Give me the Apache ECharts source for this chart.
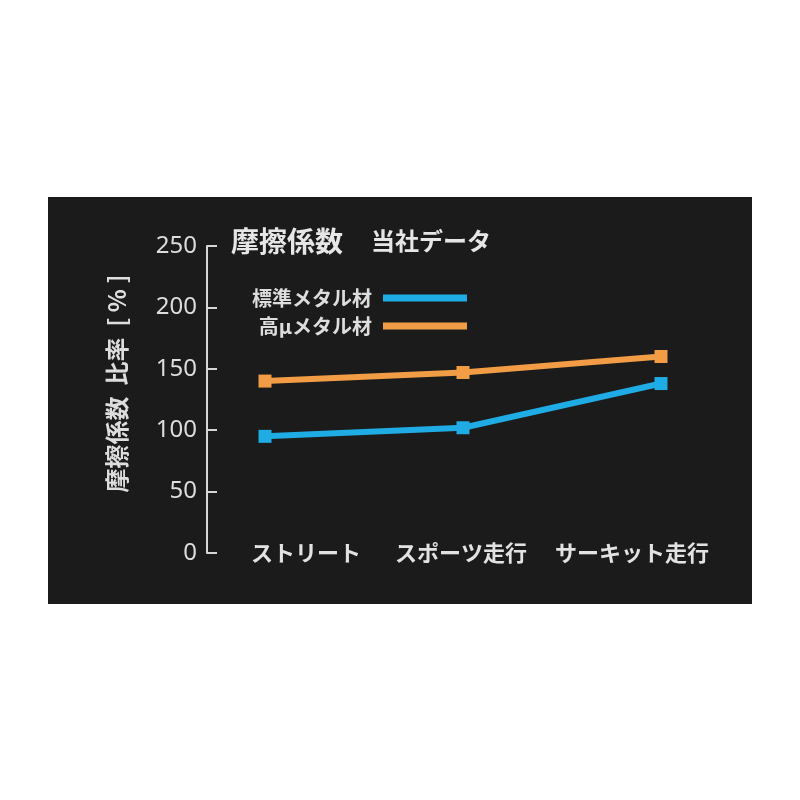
<!DOCTYPE html>
<html>
<head>
<meta charset="utf-8">
<script src="https://cdn.jsdelivr.net/npm/echarts@6/dist/echarts.min.js"></script>
<style>
  html, body { margin: 0; padding: 0; background: #ffffff; }
  #chart { width: 800px; height: 800px; }
</style>
</head>
<body>
<div id="chart"></div>
<script>
var myChart = echarts.init(document.getElementById('chart'));

// data
var categories = ['ストリート', 'スポーツ走行', 'サーキット走行'];
var standardMetal = [95, 102, 138];   // 標準メタル材
var highMuMetal = [140, 147, 160];    // 高μメタル材
var seriesNames = ['標準メタル材', '高μメタル材'];
var yTicks = [0, 250, 50];            // min, max, interval

var textFont = '"Noto Sans CJK JP", "Noto Sans", sans-serif';

// category labels are not centred on the points in the original
var labelRich = {
  c0: { fontSize: 22, fontWeight: 'bold', color: '#e2e2e2', fontFamily: textFont, padding: [0, 0, 0, 82] },
  c1: { fontSize: 22, fontWeight: 'bold', color: '#e2e2e2', fontFamily: textFont, padding: [0, 4, 0, 0] },
  c2: { fontSize: 22, fontWeight: 'bold', color: '#e2e2e2', fontFamily: textFont, padding: [0, 58, 0, 0] }
};

option = {
  backgroundColor: '#ffffff',
  animation: false,
  graphic: [{
    type: 'rect',
    z: -100,
    shape: { x: 48, y: 197, width: 704, height: 407 },
    style: { fill: '#1b1b1b' }
  }],
  title: {
    left: 231,
    top: 227,
    padding: 0,
    text: '{a|摩擦係数}{b|当社データ}',
    textStyle: {
      rich: {
        a: { fontSize: 28, fontWeight: 'bold', color: '#e6e6e6', fontFamily: textFont },
        b: { fontSize: 24, fontWeight: 'bold', color: '#e6e6e6', fontFamily: textFont, padding: [0, 0, 0, 28] }
      }
    }
  },
  legend: {
    orient: 'vertical',
    left: 252,
    top: 288,
    padding: 0,
    align: 'right',
    itemWidth: 84,
    itemHeight: 7,
    itemGap: 8,
    icon: 'rect',
    data: seriesNames,
    textStyle: { color: '#dddddd', fontSize: 20, fontWeight: 'bold', fontFamily: textFont, padding: [0, 6, 0, 0] }
  },
  grid: { left: 166, right: 40, top: 246, bottom: 247, containLabel: false },
  xAxis: {
    type: 'category',
    data: categories,
    boundaryGap: true,
    axisLine: { show: false },
    axisTick: { show: false },
    axisLabel: {
      margin: -11,
      formatter: function (value, idx) { return '{c' + idx + '|' + value + '}'; },
      rich: labelRich
    }
  },
  yAxis: {
    type: 'value',
    min: yTicks[0],
    max: yTicks[1],
    interval: yTicks[2],
    offset: -41,
    name: '摩擦係数  比率  [ % ]',
    nameLocation: 'middle',
    nameGap: 78,
    nameTextStyle: { color: '#dddddd', fontSize: 24, fontWeight: 'bold', fontFamily: textFont, padding: [0, 0, 0, 32] },
    splitLine: { show: false },
    axisLine: { show: true, lineStyle: { color: '#d6d6d6', width: 2 } },
    axisTick: { show: true, inside: true, length: 10, lineStyle: { color: '#d6d6d6', width: 2 } },
    axisLabel: { color: '#dddddd', fontSize: 24, fontFamily: '"Noto Sans", sans-serif', margin: 10 }
  },
  series: [{
    name: seriesNames[0],
    type: 'line',
    data: standardMetal,
    symbol: 'rect',
    symbolSize: 13,
    color: '#1fabe3',
    lineStyle: { width: 6 },
    itemStyle: { color: '#1fabe3' }
  }, {
    name: seriesNames[1],
    type: 'line',
    data: highMuMetal,
    symbol: 'rect',
    symbolSize: 13,
    color: '#f29d45',
    lineStyle: { width: 6 },
    itemStyle: { color: '#f29d45' }
  }]
};

myChart.setOption(option);
</script>
</body>
</html>
